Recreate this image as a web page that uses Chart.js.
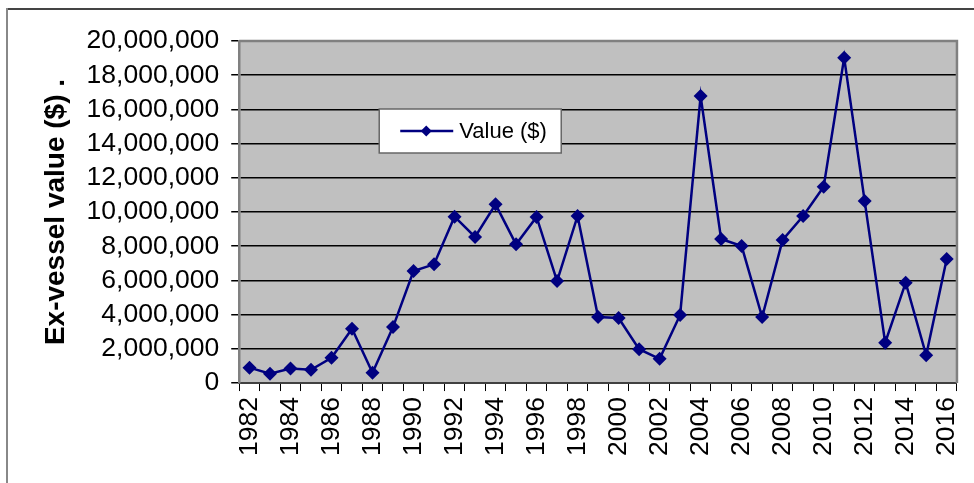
<!DOCTYPE html>
<html>
<head>
<meta charset="utf-8">
<script src="https://cdn.jsdelivr.net/npm/chart.js@4"></script>
<style>
  html, body { margin:0; padding:0; background:#fff; }
  #wrap { width:974px; height:483px; position:relative; }
</style>
</head>
<body>
<div id="wrap"><canvas id="valueChart"></canvas></div>
<script>

const years = ['1982','1983','1984','1985','1986','1987','1988','1989','1990','1991',
               '1992','1993','1994','1995','1996','1997','1998','1999','2000','2001',
               '2002','2003','2004','2005','2006','2007','2008','2009','2010','2011',
               '2012','2013','2014','2015','2016'];

const values = [900000, 550000, 850000, 780000, 1480000, 3180000, 600000, 3270000, 6550000, 6940000,
                9730000, 8540000, 10450000, 8110000, 9710000, 5960000, 9770000, 3860000, 3800000, 1980000,
                1420000, 3980000, 16780000, 8420000, 8010000, 3860000, 8370000, 9770000, 11480000, 19020000,
                10640000, 2360000, 5870000, 1620000, 7250000];

const seriesName = 'Value ($)';
const yTitle = 'Ex-vessel value ($) .';

/* outer frame + grey plot background */
const backdrop = {
    id:'backdrop',
    beforeDraw(chart){
        const {ctx, chartArea:a} = chart;
        ctx.save();
        ctx.fillStyle = '#C0C0C0';
        ctx.fillRect(a.left, a.top, a.right - a.left, a.bottom - a.top);
        ctx.lineWidth = 2;
        ctx.strokeStyle = '#444';
        ctx.beginPath();
        ctx.moveTo(6, 9); ctx.lineTo(chart.width + 5, 9);
        ctx.stroke();
        ctx.strokeStyle = '#888';
        ctx.beginPath();
        ctx.moveTo(7, 8); ctx.lineTo(7, chart.height + 5);
        ctx.stroke();
        ctx.restore();
    },
    afterDatasetsDraw(chart){
        // plot border (top / right)
        const {ctx, chartArea:a} = chart;
        ctx.save();
        ctx.strokeStyle = '#808080';
        ctx.lineWidth = 2.5;
        ctx.beginPath();
        ctx.moveTo(a.left, a.top); ctx.lineTo(a.right, a.top); ctx.lineTo(a.right, a.bottom);
        ctx.stroke();
        ctx.restore();
    }
};

/* Excel-like legend box sitting inside the plot */
const boxLegend = {
    id:'boxLegend',
    afterDraw(chart){
        const {ctx, chartArea:a} = chart;
        const ds = chart.data.datasets[0];
        const x = a.left + 140, y = a.top + 68, w = 182, h = 44;
        ctx.save();
        ctx.fillStyle = '#fff';
        ctx.fillRect(x, y, w, h);
        ctx.strokeStyle = '#666';
        ctx.lineWidth = 1.5;
        ctx.strokeRect(x, y, w, h);
        const my = y + h / 2;
        ctx.strokeStyle = ds.borderColor;
        ctx.lineWidth = 2.5;
        ctx.beginPath();
        ctx.moveTo(x + 21, my); ctx.lineTo(x + 74, my);
        ctx.stroke();
        ctx.fillStyle = ds.backgroundColor;
        const cx = x + 47, r = 5.5;
        ctx.beginPath();
        ctx.moveTo(cx, my - r); ctx.lineTo(cx + r, my); ctx.lineTo(cx, my + r); ctx.lineTo(cx - r, my);
        ctx.closePath(); ctx.fill();
        ctx.fillStyle = '#000';
        ctx.font = '22px "Liberation Sans", Arial, sans-serif';
        ctx.textBaseline = 'middle';
        ctx.fillText(seriesName, x + 80, my + 1);
        ctx.restore();
    }
};

const axisFont = { family:'"Liberation Sans", Arial, sans-serif', size:26.5 };

new Chart(document.getElementById('valueChart'), {
    type:'line',
    data:{
        labels:years,
        datasets:[{
            label:seriesName,
            data:values,
            borderColor:'#000080',
            backgroundColor:'#000080',
            borderWidth:2.5,
            tension:0,
            pointStyle:'rectRot',
            pointRadius:7,
            pointBorderWidth:0,
            fill:false
        }]
    },
    options:{
        responsive:true,
        maintainAspectRatio:false,
        animation:false,
        layout:{ padding:{ left:39, right:0, top:41, bottom:21 } },
        plugins:{
            legend:{ display:false },
            tooltip:{ enabled:false }
        },
        scales:{
            x:{
                type:'category',
                offset:true,
                grid:{
                    offset:true,
                    drawOnChartArea:false,
                    drawTicks:true,
                    tickLength:8,
                    color:'#000',
                    lineWidth:1
                },
                border:{ color:'#404040', width:2 },
                ticks:{
                    autoSkip:false,
                    maxRotation:90,
                    minRotation:90,
                    padding:6,
                    color:'#000',
                    font:{ family:'"Liberation Sans", Arial, sans-serif', size:26.5, lineHeight:0.8 },
                    callback:function(v, i){ return i % 2 === 0 ? this.getLabelForValue(v) : ''; }
                }
            },
            y:{
                min:0,
                max:20000000,
                grid:{
                    color:'#000',
                    lineWidth:1.5,
                    drawTicks:true,
                    tickLength:8,
                    tickColor:'#000'
                },
                border:{ color:'#808080', width:2.5 },
                ticks:{
                    stepSize:2000000,
                    autoSkip:false,
                    padding:12,
                    color:'#000',
                    font:axisFont,
                    callback:v => v.toLocaleString('en-US')
                },
                title:{
                    display:true,
                    text:yTitle,
                    color:'#000',
                    font:{ family:'"Liberation Sans", Arial, sans-serif', size:28, weight:'bold' },
                    padding:{ top:0, bottom:2 }
                }
            }
        }
    },
    plugins:[backdrop, boxLegend]
});
</script>
</body>
</html>
